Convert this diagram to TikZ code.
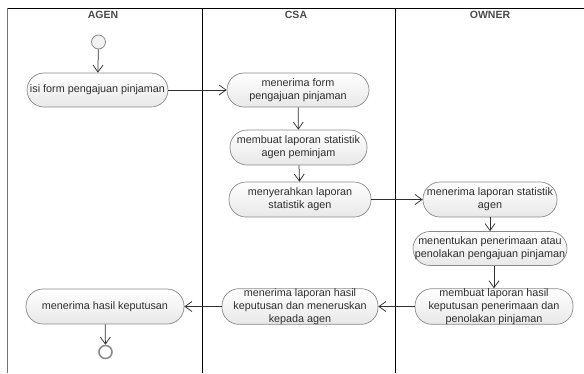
\documentclass[tikz,border=0pt]{standalone}
\usepackage{fontspec}
\setmainfont{Liberation Sans}
\usetikzlibrary{arrows.meta,shapes.misc}
\definecolor{edgegray}{HTML}{8A8A8A}
\definecolor{inkgray}{HTML}{2E2E2E}
\definecolor{headgray}{HTML}{4A4A4A}
\tikzset{
  act/.style={draw=edgegray, line width=0.7pt, rounded corners=17pt,
    top color=white, bottom color=black!9, align=center, inner sep=0pt,
    font=\fontsize{10.8}{12.8}\selectfont, text=inkgray},
  flow/.style={draw=inkgray, line width=0.75pt,
    -{Straight Barb[length=7pt,width=10pt,line width=0.75pt]}},
  lane/.style={draw=black, line width=0.6pt},
  lanehead/.style={font=\fontsize{10.5}{12}\selectfont\bfseries, text=headgray},
  startdot/.style={circle, draw=edgegray, line width=0.8pt, fill=black!5,
    minimum size=14pt, inner sep=0pt},
  enddot/.style={circle, draw=black!45, line width=1.6pt, fill=white,
    minimum size=13pt, inner sep=0pt}
}
\begin{document}
\begin{tikzpicture}[x=1pt,y=-1pt]
  \useasboundingbox (0,0) rectangle (584,373);

  % swimlane frame
  \draw[draw=black!55, line width=1.4pt] (7.5,8) -- (7.5,373);
  \draw[lane] (7.5,8) -- (584,8);
  \draw[lane] (202,8) -- (202,373);
  \draw[lane] (395,8) -- (395,373);

  % lane titles
  \node[lanehead] (hAgen)  at (103,15) {AGEN};
  \node[lanehead] (hCsa)   at (296,15) {CSA};
  \node[lanehead] (hOwner) at (490,15) {OWNER};

  % start and end
  \node[startdot] (start) at (98.5,42) {};
  \node[enddot] (finish) at (105.5,352) {};

  % activities
  \node[act, minimum width=141pt, minimum height=34pt] (isi) at (97.5,90)
    {isi form pengajuan pinjaman};
  \node[act, minimum width=142pt, minimum height=34pt] (terimaForm) at (298,90)
    {menerima form\\pengajuan pinjaman};
  \node[act, minimum width=137pt, minimum height=35pt] (buatStat) at (298.5,147.5)
    {membuat laporan statistik\\agen peminjam};
  \node[act, minimum width=142pt, minimum height=35pt] (serahStat) at (300,199.5)
    {menyerahkan laporan\\statistik agen};
  \node[act, minimum width=134pt, minimum height=35pt] (terimaStat) at (490,199.5)
    {menerima laporan statistik\\agen};
  \node[act, minimum width=154pt, minimum height=34pt] (tentukan) at (490,248.5)
    {menentukan penerimaan atau\\penolakan pengajuan pinjaman};
  \node[act, minimum width=158pt, minimum height=35pt] (buatHasil) at (494,306.5)
    {membuat laporan hasil\\keputusan penerimaan dan\\penolakan pinjaman};
  \node[act, minimum width=156pt, minimum height=35pt] (terimaHasil) at (300,306.5)
    {menerima laporan hasil\\keputusan dan meneruskan\\kepada agen};
  \node[act, minimum width=158pt, minimum height=35pt] (hasilAgen) at (105,306.5)
    {menerima hasil keputusan};

  % control flow
  \draw[flow] (start) -- (isi);
  \draw[flow] (isi) -- (terimaForm);
  \draw[flow] (terimaForm) -- (buatStat);
  \draw[flow] (buatStat) -- (serahStat);
  \draw[flow] (serahStat) -- (terimaStat);
  \draw[flow] (terimaStat) -- (tentukan);
  \draw[flow] (tentukan.south -| buatHasil) -- (buatHasil);
  \draw[flow] (buatHasil) -- (terimaHasil);
  \draw[flow] (terimaHasil) -- (hasilAgen);
  \draw[flow] (hasilAgen) -- (finish);
\end{tikzpicture}
\end{document}
